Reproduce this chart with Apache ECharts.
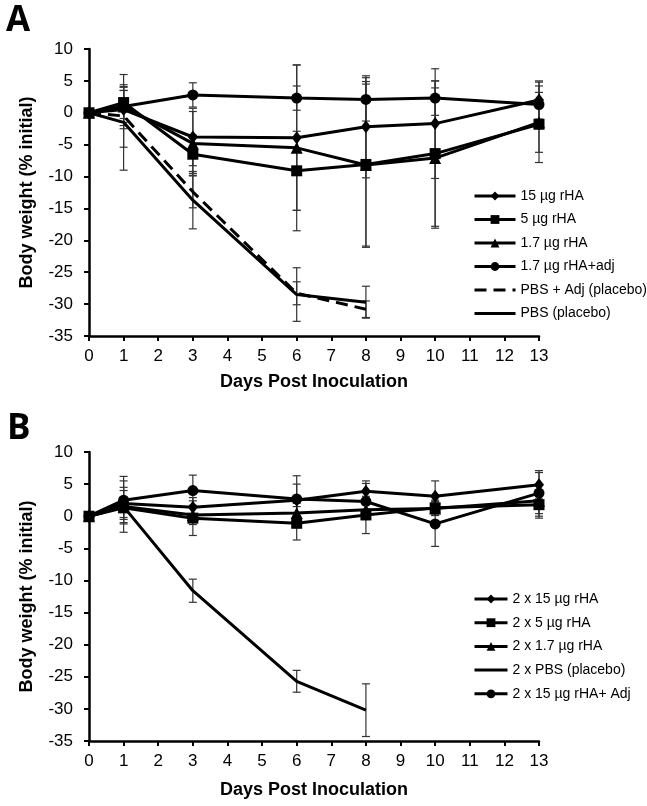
<!DOCTYPE html>
<html><head><meta charset="utf-8">
<script src="https://cdn.jsdelivr.net/npm/echarts@6/dist/echarts.min.js"></script>
<style>html,body{margin:0;padding:0;background:#fff}#c{width:647px;height:806px}</style>
</head><body><div id="c"></div>
<script>
// Panel A
const daysFull = [0, 1, 3, 6, 8, 10, 13];
const daysShort = [0, 1, 3, 6, 8];
const namesA = ['15 µg rHA', '5 µg rHA', '1.7 µg rHA', '1.7 µg rHA+adj', 'PBS + Adj (placebo)', 'PBS (placebo)'];
const a15 = [0, 0.5, -3.8, -3.9, -2.2, -1.7, 2.0];
const a5 = [0, 1.6, -6.5, -9.1, -8.1, -6.4, -1.8];
const a17 = [0, 1.0, -4.8, -5.5, -8.2, -7.1, -1.5];
const a17adj = [0, 1.0, 2.8, 2.3, 2.1, 2.3, 1.3];
const aPbsAdj = [0, -0.5, -12.4, -28.3, -30.8];
const aPbs = [0, -1.5, -13.7, -28.5, -29.7];
const ea15 = [0, 3.0, 4.5, 11.4, 8.0, 8.6, 3.0];
const ea5 = [0, 2.5, 3.0, 6.2, 13.0, 11.4, 6.0];
const ea17 = [0, 3.0, 5.0, 13.0, 12.7, 11.0, 4.7];
const ea17adj = [0, 2.5, 1.9, 1.9, 3.4, 2.7, 3.5];
const eaPbsAdj = [0, 4.9, 2.5, 1.8, 1.3];
const eaPbs = [0, 7.5, 4.5, 4.2, 2.5];
// Panel B
const namesB = ['2 x 15 µg rHA', '2 x 5 µg rHA', '2 x 1.7 µg rHA', '2 x PBS (placebo)', '2 x 15 µg rHA+ Adj'];
const b15 = [0, 2.0, 1.4, 2.5, 3.9, 3.1, 4.9];
const b5 = [0, 1.3, -0.3, -1.1, 0.2, 1.3, 1.8];
const b17 = [0, 1.5, 0.2, 0.5, 1.0, 1.2, 2.4];
const bPbs = [0, 1.5, -11.6, -25.7, -30.2];
const b15adj = [0, 2.5, 4.0, 2.7, 2.3, -1.2, 3.6];
const eb15 = [0, 2.5, 1.5, 2.5, 1.6, 2.4, 2.2];
const eb5 = [0, 1.5, 2.7, 2.6, 2.9, 1.2, 2.1];
const eb17 = [0, 2.5, 1.5, 1.5, 1.5, 1.0, 2.4];
const ebPbs = [0, 4.0, 1.8, 1.7, 4.1];
const eb15adj = [0, 3.7, 2.4, 3.6, 2.8, 3.5, 3.2];

const FONT = 'Liberation Sans';
const pairs = (xs, ys) => xs.map((x, i) => [x, ys[i]]);
const errRows = (xs, ys, es) => xs.map((x, i) => [x, ys[i] - es[i], ys[i] + es[i]]).filter((r, i) => es[i] > 0);

function lineSeries(name, xs, ys, symbol, size, idx, dashed) {
  return {
    name, type: 'line', xAxisIndex: idx, yAxisIndex: idx, data: pairs(xs, ys),
    symbol: symbol || 'none', symbolSize: size, showSymbol: !!symbol,
    lineStyle: { color: '#000', width: 3, type: dashed ? [12, 7] : 'solid' },
    itemStyle: { color: '#000' }, z: 3, animation: false
  };
}
function errSeries(rows, idx) {
  return {
    type: 'custom', xAxisIndex: idx, yAxisIndex: idx, data: rows, z: 2, animation: false, silent: true,
    renderItem: function (params, api) {
      const lo = api.coord([api.value(0), api.value(1)]);
      const hi = api.coord([api.value(0), api.value(2)]);
      const w = 4;
      const st = { stroke: '#333', lineWidth: 1.2 };
      return { type: 'group', children: [
        { type: 'line', shape: { x1: lo[0], y1: lo[1], x2: hi[0], y2: hi[1] }, style: st },
        { type: 'line', shape: { x1: lo[0] - w, y1: lo[1], x2: lo[0] + w, y2: lo[1] }, style: st },
        { type: 'line', shape: { x1: hi[0] - w, y1: hi[1], x2: hi[0] + w, y2: hi[1] }, style: st }
      ]};
    }
  };
}
const xAx = (idx, gap) => ({
  type: 'value', gridIndex: idx, min: 0, max: 13, interval: 1,
  name: 'Days Post Inoculation', nameLocation: 'middle', nameGap: gap,
  nameTextStyle: { fontFamily: FONT, fontSize: 18, fontWeight: 'bold', color: '#000' },
  axisLine: { onZero: false, lineStyle: { color: '#000', width: 2.5 } },
  axisTick: { show: true, length: 5, lineStyle: { color: '#000', width: 2 } },
  axisLabel: { fontFamily: FONT, fontSize: 17, color: '#000', margin: 12 },
  splitLine: { show: false }
});
const yAx = (idx) => ({
  type: 'value', gridIndex: idx, min: -35, max: 10, interval: 5,
  name: 'Body weight (% initial)', nameLocation: 'middle', nameGap: 53, nameRotate: 90,
  nameTextStyle: { fontFamily: FONT, fontSize: 18, fontWeight: 'bold', color: '#000' },
  axisLine: { show: true, lineStyle: { color: '#000', width: 2.5 } },
  axisTick: { show: true, length: 5, lineStyle: { color: '#000', width: 2 } },
  axisLabel: { fontFamily: FONT, fontSize: 17, color: '#000', margin: 16 },
  splitLine: { show: false }
});

const series = [
  errSeries([].concat(
    errRows(daysFull, a15, ea15), errRows(daysFull, a5, ea5), errRows(daysFull, a17, ea17),
    errRows(daysFull, a17adj, ea17adj), errRows(daysShort, aPbsAdj, eaPbsAdj), errRows(daysShort, aPbs, eaPbs)), 0),
  lineSeries(namesA[0], daysFull, a15, 'diamond', [10, 13], 0),
  lineSeries(namesA[1], daysFull, a5, 'rect', 11, 0),
  lineSeries(namesA[2], daysFull, a17, 'triangle', 12, 0),
  lineSeries(namesA[3], daysFull, a17adj, 'circle', 11, 0),
  lineSeries(namesA[4], daysShort, aPbsAdj, null, 0, 0, true),
  lineSeries(namesA[5], daysShort, aPbs, null, 0, 0),
  errSeries([].concat(
    errRows(daysFull, b15, eb15), errRows(daysFull, b5, eb5), errRows(daysFull, b17, eb17),
    errRows(daysShort, bPbs, ebPbs), errRows(daysFull, b15adj, eb15adj)), 1),
  lineSeries(namesB[0], daysFull, b15, 'diamond', [10, 13], 1),
  lineSeries(namesB[1], daysFull, b5, 'rect', 11, 1),
  lineSeries(namesB[2], daysFull, b17, 'triangle', 12, 1),
  lineSeries(namesB[3], daysShort, bPbs, null, 0, 1),
  lineSeries(namesB[4], daysFull, b15adj, 'circle', 11, 1)
];

const noMark = new Set(['PBS + Adj (placebo)', 'PBS (placebo)', '2 x PBS (placebo)']);
const legendData = (names) => names.map(n => noMark.has(n) ? { name: n, itemStyle: { opacity: 0 } } : { name: n });
const legendBase = {
  orient: 'vertical', itemHeight: 11, itemGap: 9.5, selectedMode: false,
  lineStyle: { width: 3 },
  textStyle: { fontFamily: FONT, fontSize: 14, color: '#000', lineHeight: 14 }
};
const chart = echarts.init(document.getElementById('c'), null, { renderer: 'canvas' });
chart.setOption({
  animation: false,
  backgroundColor: '#fff',
  grid: [
    { left: 89, top: 49, width: 450, height: 287 },
    { left: 89, top: 452, width: 450, height: 289 }
  ],
  xAxis: [xAx(0, 37), xAx(1, 40)],
  yAxis: [yAx(0), yAx(1)],
  legend: [
    Object.assign({}, legendBase, { data: legendData(namesA), left: 468, top: 184, itemWidth: 41 }),
    Object.assign({}, legendBase, { data: legendData(namesB), left: 468, top: 587, itemWidth: 33, itemGap: 9.7 })
  ],
  graphic: [
    { type: 'text', left: 6, top: 4, style: { text: 'A', font: 'bold 35px "Open Sans"', fill: '#000' } },
    { type: 'text', left: 7, top: 412, style: { text: 'B', font: 'bold 35px "Open Sans"', fill: '#000' } }
  ],
  series
});
</script></body></html>
